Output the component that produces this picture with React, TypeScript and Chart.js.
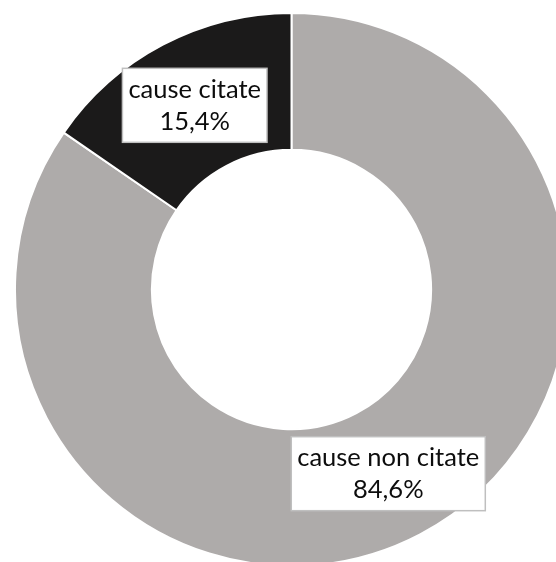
import React, { useEffect, useRef } from "react";
import { Chart, registerables } from "chart.js";

Chart.register(...registerables);

const categories = ["cause non citate", "cause citate"];
const shares = [84.6, 15.4];
const percentLabels = ["84,6%", "15,4%"];
const sliceColors = ["#AEABAA", "#1B1A1A"];

const labelPlugin = {
  id: "boxLabels",
  afterDatasetsDraw(chart: any) {
    const ctx = chart.ctx as CanvasRenderingContext2D;
    const meta = chart.getDatasetMeta(0);
    const fontSize = 25.5;
    const lineH = 32;
    ctx.save();
    ctx.font = `${fontSize}px Lato, "Open Sans", sans-serif`;
    ctx.textAlign = "center";
    ctx.textBaseline = "middle";
    meta.data.forEach((arc: any, i: number) => {
      const pos = arc.tooltipPosition();
      const lines = [categories[i], percentLabels[i]];
      const w = Math.max(...lines.map((l) => ctx.measureText(l).width)) + 12;
      const h = 74;
      const x = pos.x - w / 2;
      const y = pos.y - h / 2;
      ctx.fillStyle = "#FFFFFF";
      ctx.fillRect(x, y, w, h);
      ctx.strokeStyle = "#BFBFBF";
      ctx.lineWidth = 1.5;
      ctx.strokeRect(x, y, w, h);
      ctx.fillStyle = "#0D0D0D";
      ctx.fillText(lines[0], pos.x, pos.y - lineH / 2);
      ctx.fillText(lines[1], pos.x, pos.y + lineH / 2);
    });
    ctx.restore();
  },
};

export default function App() {
  const ref = useRef<HTMLCanvasElement | null>(null);
  useEffect(() => {
    if (!ref.current) return;
    const chart = new Chart(ref.current, {
      type: "doughnut",
      data: {
        labels: categories,
        datasets: [
          {
            data: shares,
            backgroundColor: sliceColors,
            borderColor: "#FFFFFF",
            borderWidth: 2,
          },
        ],
      },
      options: {
        responsive: false,
        animation: false,
        cutout: "50.5%",
        layout: { padding: 0 },
        plugins: {
          legend: { display: false },
          tooltip: { enabled: false },
        },
      },
      plugins: [labelPlugin],
    });
    return () => chart.destroy();
  }, []);
  return (
    <div
      style={{
        position: "fixed",
        left: 0,
        top: 0,
        width: 556,
        height: 562,
        overflow: "hidden",
        background: "#FFFFFF",
      }}
    >
      <canvas
        ref={ref}
        width={555}
        height={555}
        style={{ position: "absolute", left: 13.5, top: 12, width: 555, height: 555 }}
      />
    </div>
  );
}
